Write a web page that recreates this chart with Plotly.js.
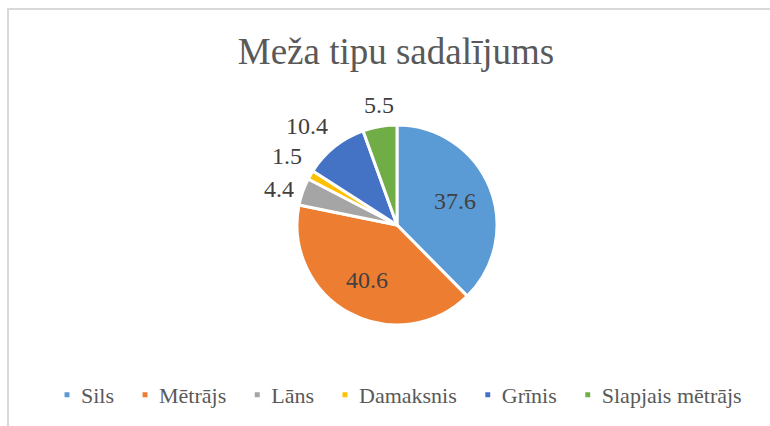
<!DOCTYPE html>
<html>
<head>
<meta charset="utf-8">
<script src="https://cdn.plot.ly/plotly-3.0.1.min.js"></script>
<style>
  html, body { margin: 0; padding: 0; background: #fff; }
  #wrap { position: relative; width: 770px; height: 426px; overflow: hidden; }
  #frame { position: absolute; left: 7px; top: 8px; width: 800px; height: 460px;
           border: 2px solid #d9d9d9; box-sizing: border-box; pointer-events: none; }
  #chart { position: absolute; left: 0; top: 0; width: 770px; height: 426px; }
</style>
</head>
<body>
<div id="wrap">
  <div id="chart"></div>
  <div id="frame"></div>
</div>
<script>
const categories = ["Sils", "Mētrājs", "Lāns", "Damaksnis", "Grīnis", "Slapjais mētrājs"];
const values = [37.6, 40.6, 4.4, 1.5, 10.4, 5.5];
const labelText = ["37.6", "40.6", "4.4", "1.5", "10.4", "5.5"];
const colors = ["#5B9BD5", "#ED7D31", "#A5A5A5", "#FFC000", "#4472C4", "#70AD47"];
const insideLabel = [true, true, false, false, false, false];

const serif = "Liberation Serif";
const W = 770, H = 426;
// pie placement (pixels)
const CX = 397, CY = 225, R = 100;

const data = [{
  type: "pie",
  labels: categories,
  values: values,
  textinfo: "none",
  sort: false,
  direction: "clockwise",
  rotation: 0,
  domain: { x: [(CX - R) / W, (CX + R) / W], y: [(H - CY - R) / H, (H - CY + R) / H] },
  marker: { colors: colors, line: { color: "#ffffff", width: 3 } },
  hoverinfo: "label+value"
}];

// data labels placed from each slice's mid angle (computed from the values)
const total = values.reduce((a, b) => a + b, 0);
const annotations = [];
let cum = 0;
values.forEach((v, i) => {
  const mid = (cum + v / 2) / total * 2 * Math.PI;
  cum += v;
  const s = Math.sin(mid), c = Math.cos(mid);
  if (insideLabel[i]) {
    const d = R * 0.63;
    annotations.push({
      text: labelText[i], xref: "paper", yref: "paper",
      x: (CX + d * s) / W, y: 1 - (CY - d * c) / H,
      xanchor: "center", yanchor: "middle", showarrow: false,
      font: { family: serif, size: 24, color: "#404040" }
    });
  } else {
    const d = R + 7;
    annotations.push({
      text: labelText[i], xref: "paper", yref: "paper",
      x: (CX + d * s) / W, y: 1 - (CY - d * c) / H,
      xanchor: s < -0.3 ? "right" : (s > 0.3 ? "left" : "center"),
      yanchor: c > 0.4 ? "bottom" : (c < -0.4 ? "top" : "middle"),
      showarrow: false,
      font: { family: serif, size: 24, color: "#404040" }
    });
  }
});

const layout = {
  width: W,
  height: H,
  margin: { l: 0, r: 0, t: 0, b: 0 },
  paper_bgcolor: "#ffffff",
  font: { family: serif },
  showlegend: true,
  annotations: annotations,
  title: {
    text: "Meža tipu sadalījums",
    font: { family: serif, size: 37, color: "#595959" },
    xref: "container", x: 396 / W, xanchor: "center",
    yref: "container", y: 1 - 51 / H, yanchor: "middle"
  },
  legend: {
    orientation: "h",
    xref: "paper", x: 394 / W, xanchor: "center",
    yref: "paper", y: 1 - 395 / H, yanchor: "middle",
    font: { family: serif, size: 22, color: "#595959" },
    itemwidth: 30,
    traceorder: "normal"
  }
};

Plotly.newPlot("chart", data, layout, { displayModeBar: false, staticPlot: true }).then(function (gd) {
  gd.querySelectorAll(".legendpoints path").forEach(function (p) {
    p.setAttribute("transform", "translate(26,0) scale(0.55)");
  });
});
</script>
</body>
</html>
